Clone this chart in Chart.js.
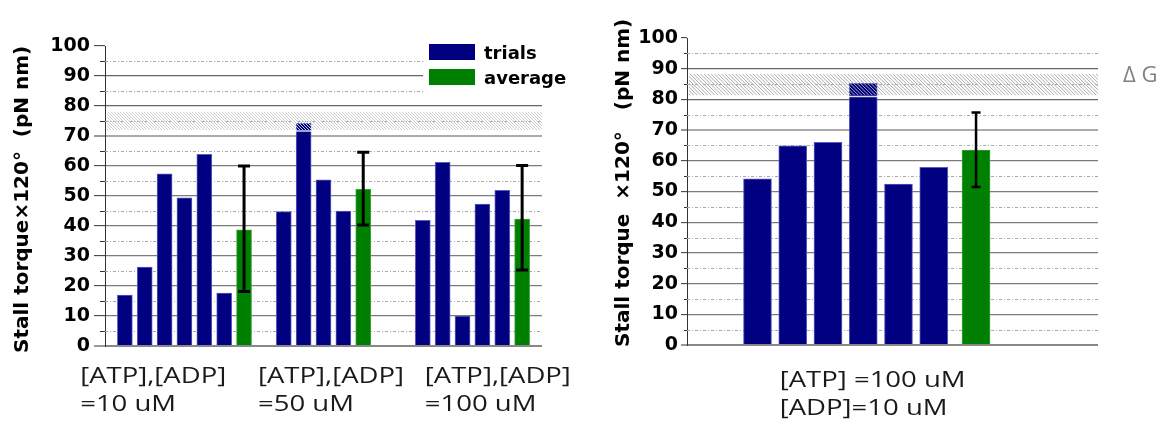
<!doctype html>
<html lang="en">
<head>
<meta charset="utf-8" />
<title>Stall torque</title>
<script src="https://cdn.jsdelivr.net/npm/chart.js@4.4.1/dist/chart.umd.min.js"></script>
<style>
  html, body { margin: 0; padding: 0; background: #fff; }
  body { width: 1163px; height: 421px; position: relative; overflow: hidden; }
  .box { position: absolute; top: 0; height: 421px; }
  #left { left: 0; width: 590px; }
  #right { left: 590px; width: 573px; }
</style>
</head>
<body>
<div class="box" id="left"><canvas id="leftChart"></canvas></div>
<div class="box" id="right"><canvas id="rightChart"></canvas></div>
<script>
  // stall torque x 120 deg, pN nm
  const conditions = [['[ATP],[ADP]', '=10 uM'], ['[ATP],[ADP]', '=50 uM'], ['[ATP],[ADP]', '=100 uM']];
  const trials10 = [17.0, 26.3, 57.4, 49.4, 63.9, 17.6];
  const trials50 = [44.8, 74.2, 55.4, 45.0];
  const trials100 = [41.9, 61.2, 10.0, 47.3, 51.9];
  const averages = [38.7, 52.2, 42.3];
  const errLow = [18.2, 40.3, 25.3];
  const errHigh = [60.0, 64.6, 60.2];
  const bandLeft = [72.0, 78.1];

  const conditionRight = ['[ATP] =100 uM', '[ADP]=10 uM'];
  const trialsRight = [54.1, 64.9, 66.0, 85.2, 52.4, 57.9];
  const averageRight = 63.5;
  const errRight = [51.5, 75.7];
  const bandRight = [81.3, 88.3];

  const yTicks = [0, 10, 20, 30, 40, 50, 60, 70, 80, 90, 100];
  const legendLabels = ['trials', 'average'];

  const NAVY = '#000080';
  const GREEN = '#008000';
  Chart.defaults.font.family = 'DejaVu Sans';
  Chart.defaults.devicePixelRatio = 1;

  // slot layout on the hidden x axis
  const groupStart = [1, 9, 16];
  const leftTrialPts = [];
  const leftAvgPts = [];
  [trials10, trials50, trials100].forEach((arr, g) => {
    arr.forEach((v, i) => leftTrialPts.push({x: groupStart[g] + i, y: v}));
    leftAvgPts.push({x: groupStart[g] + arr.length, y: averages[g]});
  });
  const rightTrialPts = trialsRight.map((v, i) => ({x: 2 + i, y: v}));
  const rightAvgPts = [{x: 8.2, y: averageRight}];

  function stretchText(ctx, text, x, y, sx) {
    ctx.save();
    ctx.translate(x, y);
    ctx.scale(sx, 1);
    ctx.fillText(text, 0, 0);
    ctx.restore();
  }

  function decor(o) {
    return {
      id: 'decor',
      beforeDatasetsDraw(chart) {
        const ctx = chart.ctx, a = chart.chartArea, ys = chart.scales.y;
        ctx.save();
        for (let v = 5; v < 100; v += 10) {
          const py = Math.round(ys.getPixelForValue(v)) + 0.5;
          ctx.strokeStyle = '#aaa';
          ctx.lineWidth = 1;
          ctx.setLineDash([3, 2, 1, 2]);
          ctx.beginPath();
          ctx.moveTo(a.left, py);
          ctx.lineTo(a.right, py);
          ctx.stroke();
          ctx.setLineDash([]);
          ctx.strokeStyle = '#333';
          ctx.beginPath();
          ctx.moveTo(a.left - o.minorTick, py);
          ctx.lineTo(a.left, py);
          ctx.stroke();
        }
        ctx.restore();
      },
      afterDatasetsDraw(chart) {
        const ctx = chart.ctx, a = chart.chartArea, ys = chart.scales.y, xs = chart.scales.x;
        // hatched band
        const top = ys.getPixelForValue(o.band[1]);
        const bot = ys.getPixelForValue(o.band[0]);
        ctx.save();
        ctx.beginPath();
        ctx.rect(a.left + 2, top, a.right - a.left - 2, bot - top);
        ctx.clip();
        ctx.strokeStyle = o.hatch;
        ctx.lineWidth = 1;
        const h = bot - top;
        for (let x = a.left - h; x < a.right + h; x += o.hatchStep) {
          ctx.beginPath();
          ctx.moveTo(x, top);
          ctx.lineTo(x + h, bot);
          ctx.stroke();
        }
        ctx.restore();
        ctx.save();
        ctx.strokeStyle = 'rgba(255,255,255,0.85)';
        ctx.lineWidth = 1.5;
        ctx.beginPath();
        ctx.moveTo(a.left + 2, bot + 1);
        ctx.lineTo(a.right, bot + 1);
        ctx.stroke();
        ctx.restore();

        // error bars
        ctx.save();
        ctx.strokeStyle = '#000';
        ctx.lineWidth = o.errWidth;
        o.errors.forEach(e => {
          const px = xs.getPixelForValue(e.x);
          const lo = ys.getPixelForValue(e.lo), hi = ys.getPixelForValue(e.hi);
          ctx.beginPath();
          ctx.moveTo(px, lo); ctx.lineTo(px, hi);
          ctx.moveTo(px - o.cap, lo); ctx.lineTo(px + o.cap, lo);
          ctx.moveTo(px - o.cap, hi); ctx.lineTo(px + o.cap, hi);
          ctx.stroke();
        });
        ctx.restore();

        // legend
        if (o.legend) {
          ctx.save();
          ctx.fillStyle = '#fff';
          ctx.fillRect(423, 38, 170, 62);
          const colors = [NAVY, GREEN];
          ctx.font = 'bold 18px "DejaVu Sans"';
          ctx.textBaseline = 'alphabetic';
          legendLabels.forEach((t, i) => {
            ctx.fillStyle = colors[i];
            ctx.fillRect(429, 44 + i * 25, 46, 16);
            ctx.fillStyle = '#000';
            ctx.fillText(t, 484, 59 + i * 25);
          });
          ctx.restore();
        }

        // axis title (rotated)
        ctx.save();
        ctx.fillStyle = '#000';
        ctx.font = 'bold 20px "DejaVu Sans"';
        ctx.textAlign = 'left';
        ctx.textBaseline = 'middle';
        ctx.translate(o.titleX, o.titleY);
        ctx.rotate(-Math.PI / 2);
        ctx.fillText(o.title, 0, 0);
        ctx.restore();

        // condition labels under the plot
        ctx.save();
        ctx.fillStyle = '#1a1a1a';
        ctx.font = '22px "Open Sans"';
        ctx.textAlign = 'left';
        ctx.textBaseline = 'alphabetic';
        o.labels.forEach(l => {
          const lx = xs.getPixelForValue(l.x);
          l.lines.forEach((t, i) => stretchText(ctx, t, lx, o.labelY + i * 28, 1.25));
        });
        ctx.restore();

        if (o.extra) o.extra(ctx);
      }
    };
  }

  function yScale(width, tickLen, pad) {
    return {
      min: 0,
      max: 100,
      afterFit: s => { s.width = width; },
      afterBuildTicks: s => { s.ticks = yTicks.map(v => ({value: v})); },
      ticks: {
        color: '#000',
        padding: pad,
        font: {family: 'DejaVu Sans', size: 19, weight: 'bold'}
      },
      grid: {
        tickLength: tickLen,
        tickColor: '#333',
        tickWidth: 1,
        color: c => {
          const v = c.tick ? c.tick.value : 0;
          if (v === 100) return 'rgba(0,0,0,0)';
          if (v === 70) return '#ababab';
          if (v === 80 || v === 90) return '#666';
          if (v === 0) return '#888';
          return '#7c7c7c';
        },
        lineWidth: c => {
          const v = c.tick ? c.tick.value : 0;
          return (v === 70 || v === 0) ? 2 : 1.3;
        }
      },
      border: {color: '#333', width: 1}
    };
  }

  function barSets(trialPts, avgPts, thick) {
    return [
      {label: legendLabels[0], data: trialPts, backgroundColor: NAVY, borderColor: '#5b5bc0', borderWidth: 1, barThickness: thick},
      {label: legendLabels[1], data: avgPts, backgroundColor: GREEN, borderColor: '#3aa03a', borderWidth: 1, barThickness: thick}
    ];
  }

  const common = {
    responsive: true,
    maintainAspectRatio: false,
    animation: false,
    grouped: false,
    plugins: {legend: {display: false}, tooltip: {enabled: false}}
  };

  new Chart(document.getElementById('leftChart'), {
    type: 'bar',
    data: {datasets: barSets(leftTrialPts, leftAvgPts, 15)},
    options: Object.assign({}, common, {
      layout: {padding: {left: 0, right: 48, top: 46, bottom: 75}},
      scales: {
        x: {type: 'linear', min: 0, max: 22, offset: false, display: false},
        y: yScale(105, 11, 4)
      }
    }),
    plugins: [decor({
      band: bandLeft,
      hatch: '#cdcdcd',
      hatchStep: 3,
      minorTick: 5,
      errWidth: 3,
      cap: 6,
      errors: leftAvgPts.map((p, i) => ({x: p.x, lo: errLow[i], hi: errHigh[i]})),
      legend: true,
      title: 'Stall torque\u00d7120\u00b0  (pN nm)',
      titleX: 23,
      titleY: 353,
      labelY: 383,
      labels: [
        {x: -1.25, lines: conditions[0]},
        {x: 7.7, lines: conditions[1]},
        {x: 16.1, lines: conditions[2]}
      ]
    })]
  });

  new Chart(document.getElementById('rightChart'), {
    type: 'bar',
    data: {datasets: barSets(rightTrialPts, rightAvgPts, 28)},
    options: Object.assign({}, common, {
      layout: {padding: {left: 0, right: 65, top: 38, bottom: 76}},
      scales: {
        x: {type: 'linear', min: 0, max: 11.66, offset: false, display: false},
        y: yScale(97, 6, 3)
      }
    }),
    plugins: [decor({
      band: bandRight,
      hatch: '#aaaaaa',
      hatchStep: 3.5,
      minorTick: 3,
      errWidth: 2.5,
      cap: 4.5,
      errors: [{x: rightAvgPts[0].x, lo: errRight[0], hi: errRight[1]}],
      legend: false,
      title: 'Stall torque  \u00d7120\u00b0   (pN nm)',
      titleX: 34,
      titleY: 347,
      labelY: 387,
      labels: [{x: 2.63, lines: conditionRight}],
      extra: ctx => {
        ctx.save();
        ctx.fillStyle = '#808080';
        ctx.font = '22px "Open Sans"';
        ctx.textBaseline = 'alphabetic';
        ctx.fillText('\u0394 G', 533, 82);
        ctx.restore();
      }
    })]
  });
</script>
</body>
</html>
